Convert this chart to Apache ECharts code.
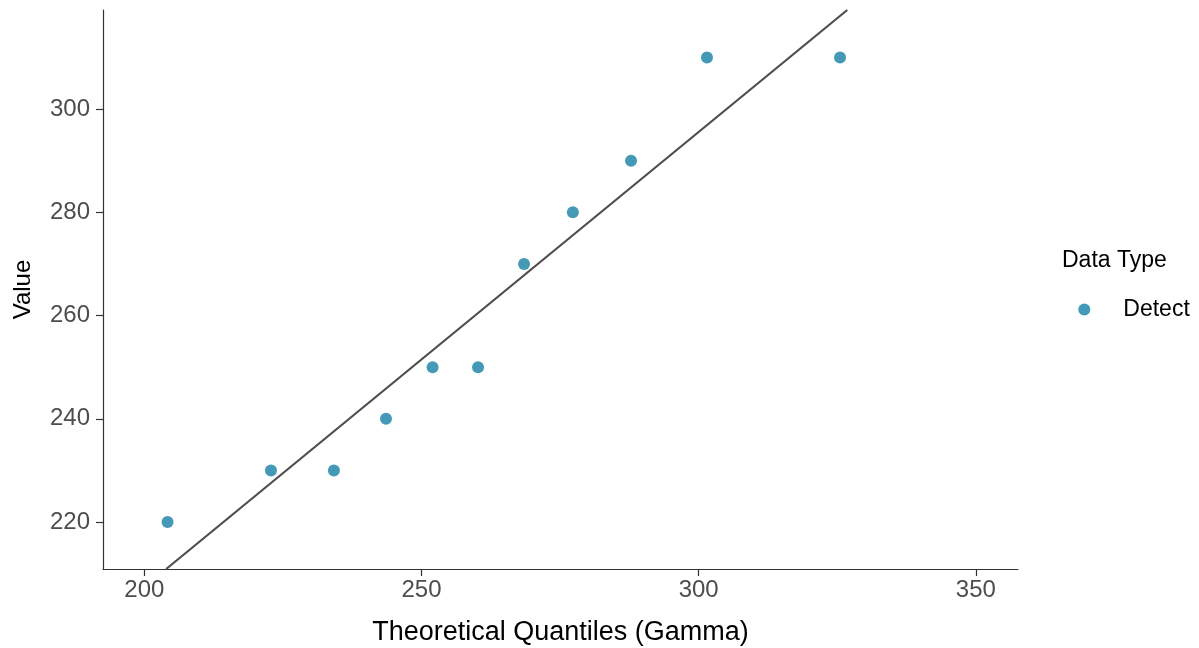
<!DOCTYPE html>
<html>
<head>
<meta charset="utf-8">
<script src="https://cdn.jsdelivr.net/npm/echarts@6/dist/echarts.min.js"></script>
<style>
html,body{margin:0;padding:0;background:#fff;}
#chart{width:1199px;height:648px;}
</style>
</head>
<body>
<div id="chart"></div>
<script>
// Data
var theoreticalQuantiles = [204.2, 222.85, 234.2, 243.6, 252.0, 260.2, 268.5, 277.3, 287.8, 301.5, 325.5];
var observedValues = [220, 230, 230, 240, 250, 250, 270, 280, 290, 310, 310];
var refLineX = [203.95, 326.8];
var refLineY = [210.9, 319.2];
var xTicks = [200, 250, 300, 350];
var yTicks = [220, 240, 260, 280, 300];
var seriesName = 'Detect';
var legendTitle = 'Data Type';

var scatterData = theoreticalQuantiles.map(function (x, i) { return [x, observedValues[i]]; });
var lineData = refLineX.map(function (x, i) { return [x, refLineY[i]]; });

var FONT = 'Liberation Sans, Arial, sans-serif';
var chart = echarts.init(document.getElementById('chart'), null, {renderer: 'canvas'});
chart.setOption({
  backgroundColor: '#ffffff',
  animation: false,
  textStyle: {fontFamily: FONT},
  title: {
    text: legendTitle,
    left: 1062,
    top: 249.5,
    padding: 0,
    textStyle: {fontFamily: FONT, fontSize: 23, fontWeight: 'normal', color: '#000'}
  },
  legend: {
    data: [seriesName],
    orient: 'vertical',
    left: 1078.3,
    top: 298,
    padding: 0,
    itemWidth: 12,
    itemHeight: 12,
    icon: 'circle',
    textStyle: {fontFamily: FONT, fontSize: 23, color: '#000', padding: [0, 0, 0, 28]}
  },
  grid: {left: 103, right: 181, top: 10, bottom: 79, outerBoundsMode: 'none', containLabel: false},
  xAxis: {
    type: 'value',
    min: 192.55,
    max: 357.6,
    name: 'Theoretical Quantiles (Gamma)',
    nameLocation: 'middle',
    nameGap: 50,
    nameTextStyle: {fontFamily: FONT, fontSize: 27, color: '#000'},
    axisLine: {show: true, lineStyle: {color: '#333', width: 1.2}},
    axisTick: {show: true, length: 7, customValues: xTicks, lineStyle: {color: '#333', width: 1.2}},
    axisLabel: {customValues: xTicks, margin: 9, fontFamily: FONT, fontSize: 24, color: '#4d4d4d'},
    splitLine: {show: false}
  },
  yAxis: {
    type: 'value',
    min: 210.9,
    max: 319.2,
    name: 'Value',
    nameLocation: 'middle',
    nameGap: 68,
    nameTextStyle: {fontFamily: FONT, fontSize: 24, color: '#000'},
    axisLine: {show: true, lineStyle: {color: '#333', width: 1.2}},
    axisTick: {show: true, length: 7, customValues: yTicks, lineStyle: {color: '#333', width: 1.2}},
    axisLabel: {customValues: yTicks, margin: 13, fontFamily: FONT, fontSize: 24, color: '#4d4d4d'},
    splitLine: {show: false}
  },
  series: [
    {
      name: 'refLine',
      type: 'line',
      data: lineData,
      showSymbol: false,
      symbol: 'none',
      lineStyle: {color: '#4d4d4d', width: 2.2},
      z: 2,
      silent: true
    },
    {
      name: seriesName,
      type: 'scatter',
      data: scatterData,
      symbol: 'circle',
      symbolSize: 12,
      itemStyle: {color: '#4499b7', opacity: 1},
      z: 3
    }
  ]
});
</script>
</body>
</html>
